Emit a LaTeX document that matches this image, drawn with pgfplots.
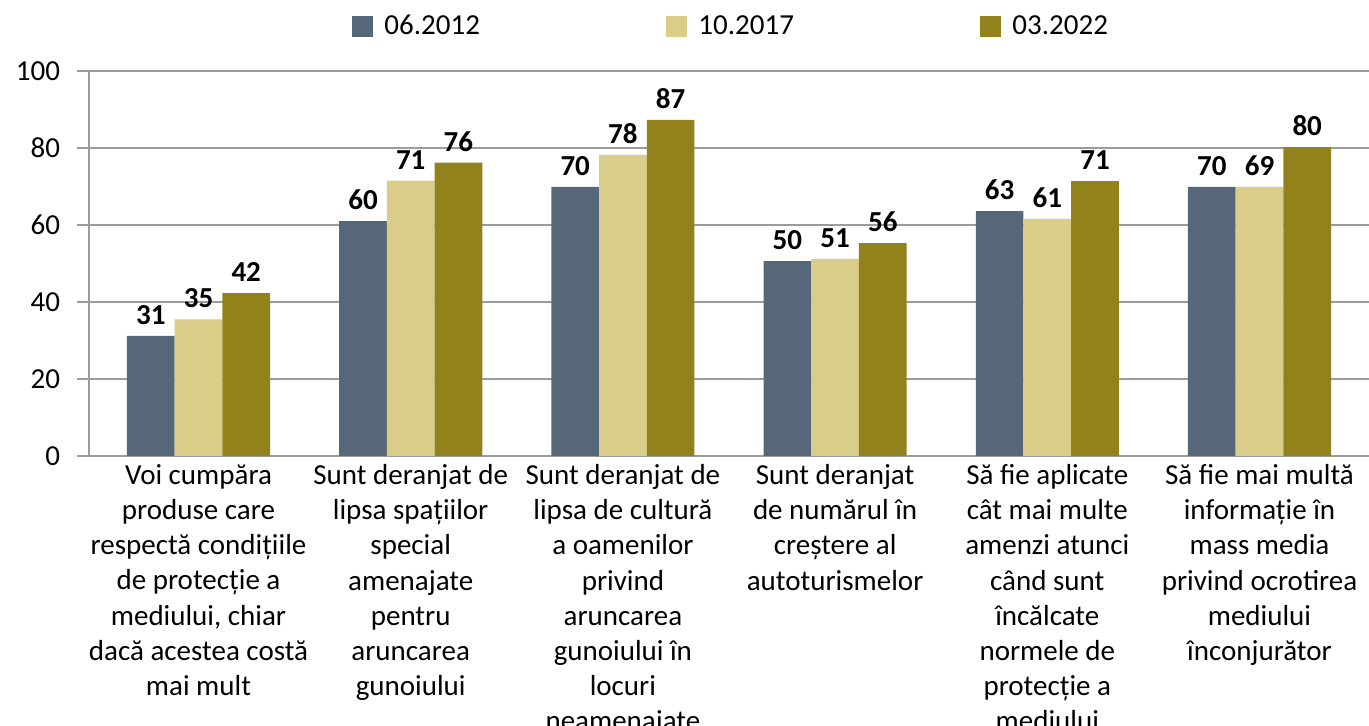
\documentclass[border=0pt]{standalone}
\usepackage{fontspec}
\setmainfont{Carlito}
\usepackage{pgfplots}
\pgfplotsset{compat=1.18}
\definecolor{cA}{RGB}{86,103,121}
\definecolor{cB}{RGB}{217,205,137}
\definecolor{cC}{RGB}{146,130,27}
\definecolor{gridg}{RGB}{155,155,155}
\newcommand{\fs}{\fontsize{14.5bp}{17.6bp}\selectfont}
\begin{document}
\begin{tikzpicture}
\begin{axis}[
  at={(44.5bp,135bp)}, anchor=south west,
  scale only axis, width=640bp, height=192.5bp,
  ybar=0pt, bar width=23.85bp,
  xmin=-0.516, xmax=5.516, ymin=0, ymax=100,
  ytick={0,20,40,60,80,100},
  xtick={0,1,2,3,4,5},
  xticklabels={
    {Voi cumpăra\\produse care\\respectă condițiile\\de protecție a\\mediului, chiar\\dacă acestea costă\\mai mult},
    {Sunt deranjat de\\lipsa spațiilor\\special\\amenajate\\pentru\\aruncarea\\gunoiului},
    {Sunt deranjat de\\lipsa de cultură\\a oamenilor\\privind\\aruncarea\\gunoiului în\\locuri\\neamenajate},
    {Sunt deranjat\\de numărul în\\creștere al\\autoturismelor},
    {Să fie aplicate\\cât mai multe\\amenzi atunci\\când sunt\\încălcate\\normele de\\protecție a\\mediului},
    {Să fie mai multă\\informație în\\mass media\\privind ocrotirea\\mediului\\înconjurător}},
  xticklabel style={font=\fs, align=center, anchor=north, inner sep=0pt, yshift=2bp},
  yticklabel style={font=\fs, xshift=-5bp},
  /pgf/number format/assume math mode=true,
  axis lines=left,
  axis line style={draw=gridg, line width=1.2bp, -},
  x axis line style={-}, y axis line style={-},
  ymajorgrids, grid style={draw=gridg, line width=1bp},
  tick align=outside,
  major tick length=6bp,
  ytick style={draw=gridg, line width=1bp},
  xtick style={draw=none},
  point meta=explicit,
  nodes near coords,
  every node near coord/.append style={font=\fs\bfseries, inner sep=0pt, yshift=5.5bp, text=black},
  legend columns=3,
  legend style={draw=none, fill=none, inner sep=0pt, at={(0.2055,1.116)}, anchor=west,
    nodes={inner sep=0pt, font=\fs},
    /tikz/every odd column/.append style={column sep=5.5bp}},
  legend image code/.code={\fill[#1,draw=none] (0bp,-5.25bp) rectangle (10.5bp,5.25bp);},
]
\addplot[fill=cA, draw=none] coordinates {(0,31.2)[31] (1,61.0)[60] (2,69.9)[70] (3,50.6)[50] (4,63.6)[63] (5,69.9)[70]};
\addplot[fill=cB, draw=none] coordinates {(0,35.5)[35] (1,71.5)[71] (2,78.2)[78] (3,51.2)[51] (4,61.6)[61] (5,69.9)[69]};
\addplot[fill=cC, draw=none] coordinates {(0,42.3)[42] (1,76.2)[76] (2,87.3)[87] (3,55.3)[56] (4,71.4)[71] (5,80.2)[80]};
\addlegendentry{\makebox[141bp][l]{06.2012}}
\addlegendentry{\makebox[141bp][l]{10.2017}}
\addlegendentry{\makebox[141bp][l]{03.2022}}
\end{axis}
\pgfresetboundingbox
\path[use as bounding box] (0,0) rectangle (684.5bp,363bp);
\end{tikzpicture}
\end{document}
